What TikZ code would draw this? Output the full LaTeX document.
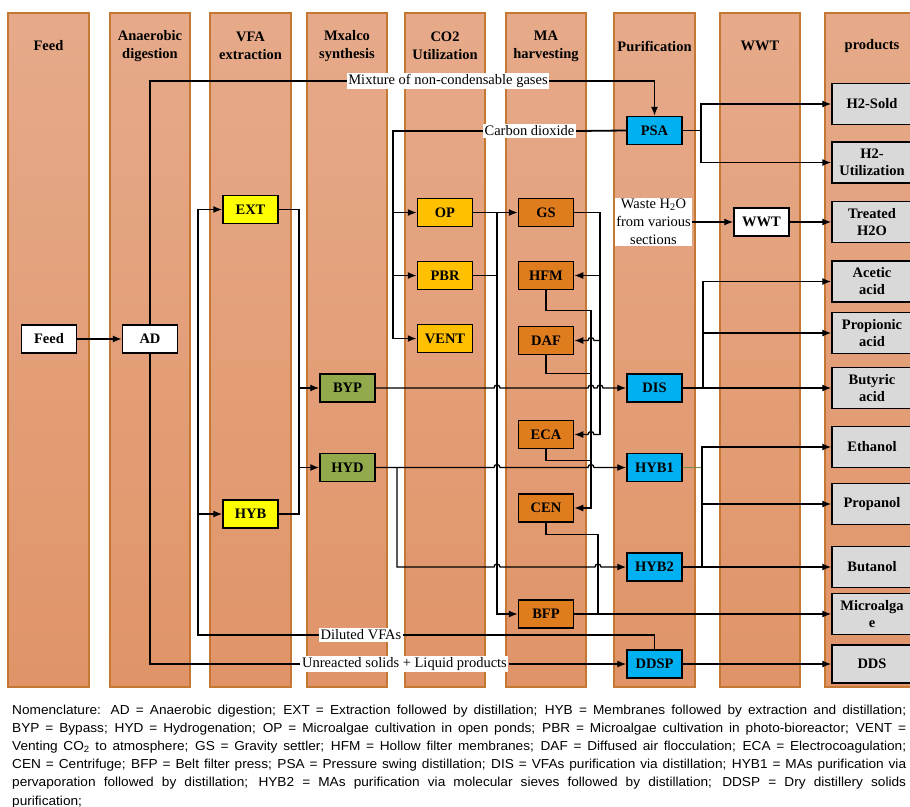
\documentclass[tikz,border=0pt]{standalone}
\usepackage{fontspec}
\setmainfont{Liberation Serif}
\newfontfamily\nomfont[FakeStretch=1.05]{Liberation Sans}
\usetikzlibrary{arrows.meta}
\definecolor{lanetop}{RGB}{230,170,138}
\definecolor{lanebot}{RGB}{224,148,104}
\definecolor{laneedge}{RGB}{196,120,52}
\definecolor{vfayellow}{RGB}{255,255,0}
\definecolor{mxgreen}{RGB}{146,170,76}
\definecolor{co2gold}{RGB}{255,192,0}
\definecolor{maorange}{RGB}{222,124,30}
\definecolor{purcyan}{RGB}{0,176,240}
\definecolor{prodgray}{RGB}{217,217,217}
\definecolor{hybline}{RGB}{110,140,70}

% little bridges where one stream jumps over another
\newcommand{\hopR}{arc[start angle=180,end angle=0,radius=3pt]}
\newcommand{\hopL}{arc[start angle=0,end angle=180,radius=3pt]}

\tikzset{
  lane/.style={draw=laneedge,line width=1.2pt,top color=lanetop,bottom color=lanebot},
  lanetitle/.style={font=\bfseries\fontsize{14.5}{18}\selectfont,align=center},
  unit/.style={draw,line width=1.5pt,minimum width=55pt,minimum height=28pt,
    inner sep=0pt,font=\bfseries\fontsize{14.5}{17}\selectfont},
  product/.style={unit,fill=prodgray,minimum width=80pt,minimum height=41pt,align=center},
  tag/.style={fill=white,inner sep=1.5pt,font=\fontsize{14.5}{18}\selectfont,align=center},
  flow/.style={line width=1.3pt},
  stream/.style={flow,-{Latex[length=9pt,width=7pt]}},
}

\begin{document}
\begin{tikzpicture}[x=1pt,y=-1pt]
\useasboundingbox (0,0) rectangle (910,806);
\clip (0,0) rectangle (910,806);

% process sections
\foreach \l/\r/\t in {8/89/Feed,110/190/{Anaerobic\\digestion},210/291/{VFA\\extraction},
    307/387/{Mxalco\\synthesis},405/485/{CO2\\Utilization},506/586/{MA\\harvesting},
    614/695/Purification,720/800/WWT,825/919/products}{
  \path[lane] (\l,13) rectangle (\r,687);
  \node[lanetitle] (title\l) at ({(\l+\r)/2},46) {\t};
}

% units
\node[unit,fill=white] (Feed) at (49,339) {Feed};
\node[unit,fill=white] (AD) at (150,339) {AD};
\node[unit,fill=vfayellow] (EXT) at (250.5,209.5) {EXT};
\node[unit,fill=vfayellow] (HYB) at (250.5,514) {HYB};
\node[unit,fill=mxgreen] (BYP) at (347.5,388) {BYP};
\node[unit,fill=mxgreen] (HYD) at (347.5,467.5) {HYD};
\node[unit,fill=co2gold] (OP) at (445,212.5) {OP};
\node[unit,fill=co2gold] (PBR) at (445,275.5) {PBR};
\node[unit,fill=co2gold] (VENT) at (445,338.5) {VENT};
\node[unit,fill=maorange] (GS) at (546,212.5) {GS};
\node[unit,fill=maorange] (HFM) at (546,275.5) {HFM};
\node[unit,fill=maorange] (DAF) at (546,340.5) {DAF};
\node[unit,fill=maorange] (ECA) at (546,434.5) {ECA};
\node[unit,fill=maorange] (CEN) at (546,508) {CEN};
\node[unit,fill=maorange] (BFP) at (546,614) {BFP};
\node[unit,fill=purcyan] (PSA) at (654.5,130.5) {PSA};
\node[unit,fill=purcyan] (DIS) at (654.5,388) {DIS};
\node[unit,fill=purcyan] (HYB1) at (654.5,467.5) {HYB1};
\node[unit,fill=purcyan] (HYB2) at (654.5,567) {HYB2};
\node[unit,fill=purcyan] (DDSP) at (654.5,664) {DDSP};
\node[unit,fill=white] (WWT) at (761.5,222) {WWT};

% products
\node[product] (h2s) at (872,104) {H2-Sold};
\node[product] (h2u) at (872,162.5) {H2-\\Utilization};
\node[product] (tw) at (872,222) {Treated\\H2O};
\node[product] (ace) at (872,281.5) {Acetic\\acid};
\node[product] (prp) at (872,333) {Propionic\\acid};
\node[product] (but) at (872,388) {Butyric\\acid};
\node[product] (eth) at (872,447) {Ethanol};
\node[product] (prl) at (872,504) {Propanol};
\node[product] (bul) at (872,567) {Butanol};
\node[product] (mic) at (872,614) {Microalga\\e};
\node[product,minimum height=38pt] (dds) at (872,664) {DDS};

% stream labels
\node[tag] (mix) at (448,81) {Mixture of non-condensable gases};
\node[tag] (co2) at (529.5,131) {Carbon dioxide};
\node[tag] (waste) at (653.5,222) {Waste H\textsubscript{2}O\\from various\\sections};
\node[tag] (dil) at (361,635) {Diluted VFAs};
\node[tag] (unr) at (404.5,664) {Unreacted solids + Liquid products};

% bus lines
\coordinate (vfa) at (198,0);
\coordinate (mx) at (299,0);
\coordinate (cb) at (393,0);
\coordinate (hd) at (397,0);
\coordinate (ob) at (497,0);
\coordinate (hb) at (591,0);
\coordinate (cn) at (598,0);
\coordinate (gb) at (600,0);
\coordinate (pb) at (701,0);
\coordinate (ab) at (702,0);
\coordinate (db) at (703,0);

% digestion
\draw[stream] (Feed) -- (AD);
\draw[flow] (AD.north) |- (mix.west);
\draw[stream] (mix.east) -| (PSA.north);
\draw[flow] (AD.south) |- (unr.west);
\draw[stream] (unr.east) -- (DDSP.west);
\draw[flow] (DDSP.north) |- (dil.east);
\draw[stream] (dil.west) -| (vfa |- EXT) -- (EXT.west);
\draw[stream] (vfa |- HYB) -- (HYB.west);

% extraction to synthesis
\draw[flow] (EXT.east) -| (mx |- HYB) -- (HYB.east);
\draw[stream] (mx |- BYP) -- (BYP.west);
\draw[stream] (mx |- HYD) -- (HYD.west);

% synthesis to purification
\draw[stream] (BYP.east) -- ([xshift=-3pt]ob |- BYP) \hopR -- ([xshift=-3pt]hb |- BYP) \hopR
  -- ([xshift=-3pt]gb |- BYP) \hopR -- (DIS.west);
\draw[stream] (HYD.east) -- ([xshift=-3pt]ob |- HYD) \hopR -- ([xshift=-3pt]hb |- HYD) \hopR
  -- (HYB1.west);
\draw[stream] (hd |- HYD) -- (hd |- HYB2) -- ([xshift=-3pt]ob |- HYB2) \hopR
  -- ([xshift=-3pt]cn |- HYB2) \hopR -- (HYB2.west);

% CO2 recycle to algae
\draw[flow,line width=1.8pt] (PSA.west) -- (co2.east);
\draw[stream,line width=1.8pt] (co2.west) -| (cb |- VENT) -- (VENT.west);
\draw[stream] (cb |- OP) -- (OP.west);
\draw[stream] (cb |- PBR) -- (PBR.west);

% algae harvesting
\draw[stream] (OP) -- (GS);
\draw[flow] (PBR.east) -- (ob |- PBR);
\draw[stream] (ob |- OP) -- (ob |- BFP) -- (BFP.west);
\draw[flow] (GS.east) -| (gb |- ECA);
\draw[stream] (gb |- HFM) -- (HFM.east);
\draw[stream] (gb |- DAF) -- ([xshift=3pt]hb |- DAF) \hopL -- (DAF.east);
\draw[stream] (gb |- ECA) -- ([xshift=3pt]hb |- ECA) \hopL -- (ECA.east);
\draw[stream] (HFM.south) -- ++(0,20) -| (hb |- CEN) -- (CEN.east);
\draw[flow] (DAF.south) -- ++(0,18) coordinate (dafout) -- (dafout -| hb);
\draw[flow] (ECA.south) -- ++(0,11) coordinate (ecaout) -- (ecaout -| hb);
\draw[flow] (CEN.south) -- ++(0,12) -| (cn |- BFP);
\draw[stream] (BFP.east) -- (mic.west);

% purification to products
\draw[flow] (PSA.east) -- (pb |- PSA);
\draw[stream] (pb |- PSA) |- (h2s.west);
\draw[stream] (pb |- PSA) |- (h2u.west);
\draw[stream] (waste.east) -- (WWT.west);
\draw[stream] (WWT.east) -- (tw.west);
\draw[stream] (DIS.east) -- (but.west);
\draw[stream] (db |- DIS) |- (ace.west);
\draw[stream] (db |- DIS) |- (prp.west);
\draw[flow,draw=hybline] (HYB1.east) -- (ab |- HYB1);
\draw[stream] (ab |- HYB2) |- (eth.west);
\draw[stream] (ab |- prl) -- (prl.west);
\draw[stream] (HYB2.east) -- (bul.west);
\draw[stream] (DDSP.east) -- (dds.west);

% abbreviations
\node[anchor=north west,inner sep=0pt,text width=894pt,align=justify,
  font=\nomfont\fontsize{13}{18.2}\selectfont] (nom) at (12,704.5) {%
Nomenclature: AD = Anaerobic digestion; EXT = Extraction followed by distillation; HYB = Membranes followed by extraction and distillation;\linebreak
BYP = Bypass; HYD = Hydrogenation; OP = Microalgae cultivation in open ponds; PBR = Microalgae cultivation in photo-bioreactor; VENT =\linebreak
Venting CO\textsubscript{2} to atmosphere; GS = Gravity settler; HFM = Hollow filter membranes; DAF = Diffused air flocculation; ECA = Electrocoagulation;\linebreak
CEN = Centrifuge; BFP = Belt filter press; PSA = Pressure swing distillation; DIS = VFAs purification via distillation; HYB1 = MAs purification via\linebreak
pervaporation followed by distillation; HYB2 = MAs purification via molecular sieves followed by distillation; DDSP = Dry distillery solids\linebreak
purification;};
\end{tikzpicture}
\end{document}
